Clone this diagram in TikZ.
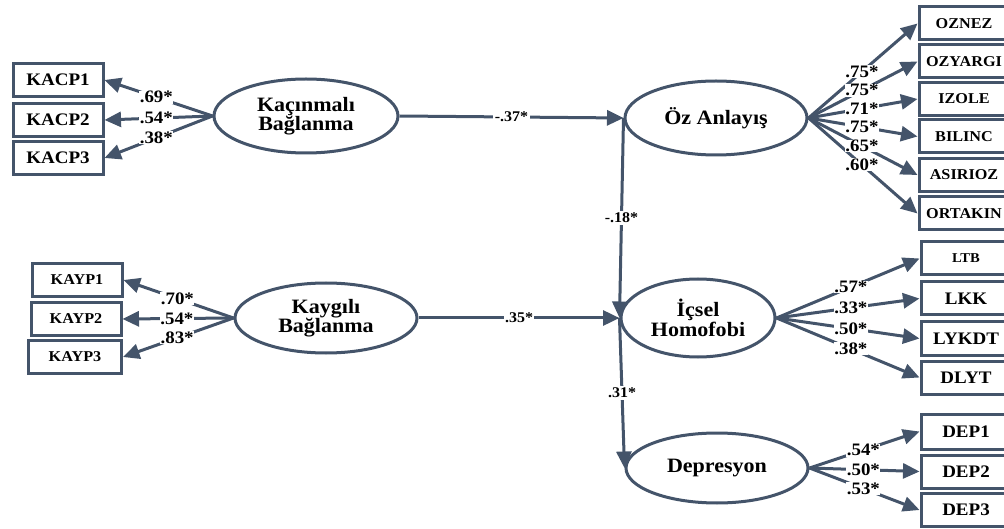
\documentclass[tikz,border=0pt]{standalone}
\usepackage{fontspec}
\setmainfont{Liberation Serif}[FakeStretch=1.08]
\usetikzlibrary{shapes.geometric,arrows.meta}
\definecolor{sem}{RGB}{68,84,106}
\begin{document}
\begin{tikzpicture}[x=1pt,y=-1pt,
  obs/.style={draw=sem,line width=3pt,fill=white,rectangle,minimum width=90pt,minimum height=33pt,inner sep=0pt,font=\bfseries\fontsize{15}{15}\selectfont},
  lat/.style={draw=sem,line width=3pt,fill=white,ellipse,inner sep=0pt,align=center,font=\bfseries\fontsize{20.4}{19.5}\selectfont},
  con/.style={draw=sem,line width=3pt,-{Triangle[length=16.5pt,width=15pt]}},
  lbl/.style={fill=white,inner sep=0.5pt,font=\bfseries\fontsize{17.5}{17.5}\selectfont},
  plbl/.style={fill=white,inner sep=1.5pt,font=\bfseries\fontsize{14.8}{14.8}\selectfont},
  big/.style={font=\bfseries\fontsize{17.6}{17.6}\selectfont}]
\clip (0,0) rectangle (1004,529);
% latent variables
\node[lat,minimum width=184pt,minimum height=74pt] (kac) at (306,116) {Kaçınmalı\\Bağlanma};
\node[lat,minimum width=182pt,minimum height=70pt] (kay) at (326,318) {Kaygılı\\Bağlanma};
\node[lat,minimum width=182pt,minimum height=74pt] (oz) at (716,118) {Öz Anlayış};
\node[lat,minimum width=154pt,minimum height=78pt] (ic) at (698,318) {İçsel\\Homofobi};
\node[lat,minimum width=182pt,minimum height=70pt] (dep) at (717,468) {Depresyon};
% left indicators
\node[obs,big] (kacp1) at (58,80) {KACP1};
\node[obs,big] (kacp2) at (58,120) {KACP2};
\node[obs,big] (kacp3) at (58,158) {KACP3};
\node[obs] (kayp1) at (77,280) {KAYP1};
\node[obs] (kayp2) at (76,319) {KAYP2};
\node[obs,minimum width=93pt] (kayp3) at (75,357) {KAYP3};
% right indicators
\node[obs] (ozn) at (964,23.5) {OZNEZ};
\node[obs] (ozy) at (964,61.5) {OZYARGI};
\node[obs] (izo) at (964,99) {IZOLE};
\node[obs] (bil) at (964,136.5) {BILINC};
\node[obs] (asi) at (964,175) {ASIRIOZ};
\node[obs] (ort) at (964,213.5) {ORTAKIN};
\node[obs,font=\bfseries\fontsize{13.5}{13.5}\selectfont] (ltb) at (966,258.5) {LTB};
\node[obs,big] (lkk) at (966,298.5) {LKK};
\node[obs,big] (lyk) at (966,338.5) {LYKDT};
\node[obs,big] (dly) at (966,377.5) {DLYT};
\node[obs,big,minimum height=35pt] (dep1) at (966,431.5) {DEP1};
\node[obs,big] (dep2) at (966,471.5) {DEP2};
\node[obs,big] (dep3) at (966,510) {DEP3};
% connectors
\draw[con] (kac.west) -- coordinate[pos=.52] (a1) (kacp1.east);
\draw[con] (kac.west) -- coordinate[pos=.52] (a2) (kacp2.east);
\draw[con] (kac.west) -- coordinate[pos=.52] (a3) (kacp3.east);
\draw[con] (kay.west) -- coordinate[pos=.51] (b1) (kayp1.east);
\draw[con] (kay.west) -- coordinate[pos=.51] (b2) (kayp2.east);
\draw[con] (kay.west) -- coordinate[pos=.51] (b3) (kayp3.east);
\draw[con] (oz.east) -- coordinate[pos=.49] (c1) (ozn.west);
\draw[con] (oz.east) -- coordinate[pos=.49] (c2) (ozy.west);
\draw[con] (oz.east) -- coordinate[pos=.49] (c3) (izo.west);
\draw[con] (oz.east) -- coordinate[pos=.49] (c4) (bil.west);
\draw[con] (oz.east) -- coordinate[pos=.49] (c5) (asi.west);
\draw[con] (oz.east) -- coordinate[pos=.49] (c6) (ort.west);
\draw[con] (ic.east) -- coordinate[pos=.52] (d1) (ltb.west);
\draw[con] (ic.east) -- coordinate[pos=.52] (d2) (lkk.west);
\draw[con] (ic.east) -- coordinate[pos=.52] (d3) (lyk.west);
\draw[con] (ic.east) -- coordinate[pos=.52] (d4) (dly.west);
\draw[con] (dep.east) -- coordinate[pos=.49] (e1) (dep1.west);
\draw[con] (dep.east) -- coordinate[pos=.49] (e2) (dep2.west);
\draw[con] (dep.east) -- coordinate[pos=.49] (e3) (dep3.west);
\draw[con] (kac.east) -- coordinate[pos=.5] (p1) (oz.west);
\draw[con] (kay.east) -- coordinate[pos=.5] (p2) (ic.west);
\draw[con] (oz.west) -- coordinate[pos=.5] (p3) (ic.west);
\draw[con] (ic.west) -- coordinate[pos=.5] (p4) (dep.west);
% labels
\node[lbl] at (a1) {.69*};
\node[lbl] at (a2) {.54*};
\node[lbl] at (a3) {.38*};
\node[lbl] at (b1) {.70*};
\node[lbl] at (b2) {.54*};
\node[lbl] at (b3) {.83*};
\node[lbl] at (c1) {.75*};
\node[lbl] at (c2) {.75*};
\node[lbl] at (c3) {.71*};
\node[lbl] at (c4) {.75*};
\node[lbl] at (c5) {.65*};
\node[lbl] at (c6) {.60*};
\node[lbl] at (d1) {.57*};
\node[lbl] at (d2) {.33*};
\node[lbl] at (d3) {.50*};
\node[lbl] at (d4) {.38*};
\node[lbl] at (e1) {.54*};
\node[lbl] at (e2) {.50*};
\node[lbl] at (e3) {.53*};
\node[plbl] at (p1) {-.37*};
\node[plbl] at (p2) {.35*};
\node[plbl] at (p3) {-.18*};
\node[plbl] at (p4) {.31*};
\end{tikzpicture}
\end{document}
